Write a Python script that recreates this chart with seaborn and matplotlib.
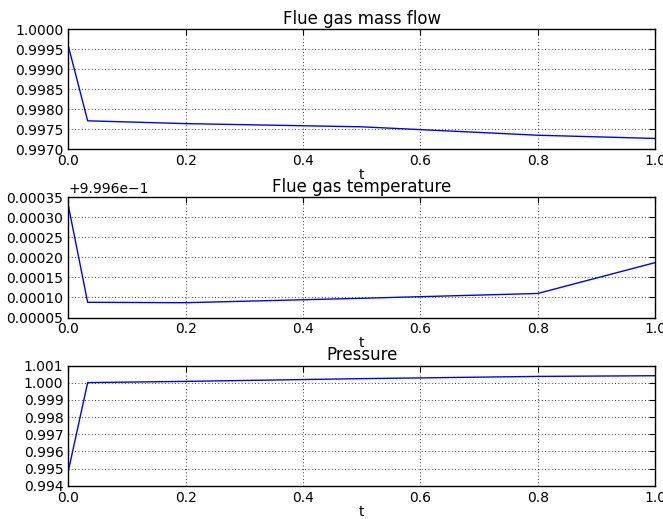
import matplotlib
matplotlib.use("Agg")
import matplotlib.pyplot as plt
from matplotlib.ticker import MultipleLocator
import seaborn as sns
import pandas as pd

t = [0.0, 0.033, 0.2, 0.5, 0.8, 1.0]
mass_flow = [0.99958, 0.99771, 0.99764, 0.99756, 0.99735, 0.99727]
temperature = [0.99993, 0.999688, 0.999687, 0.999698, 0.99971, 0.999787]
pressure = [0.99485, 1.00001, 1.00008, 1.00024, 1.00037, 1.00041]

titles = ["Flue gas mass flow", "Flue gas temperature", "Pressure"]
series = [mass_flow, temperature, pressure]
ylims = [(0.9970, 1.0000), (0.99965, 0.99995), (0.994, 1.001)]
ysteps = [0.0005, 0.00005, 0.001]
temp_offset = 0.9996

sns.set_style("white")
plt.rcParams.update({
    "font.family": ["DejaVu Sans"],
    "text.color": "black",
    "axes.labelcolor": "black",
    "xtick.color": "black",
    "ytick.color": "black",
    "xtick.direction": "in",
    "ytick.direction": "in",
    "xtick.top": True,
    "ytick.right": True,
    "xtick.major.size": 4,
    "ytick.major.size": 4,
    "axes.edgecolor": "black",
    "axes.linewidth": 1.0,
    "xtick.labelsize": 10,
    "ytick.labelsize": 10,
    "axes.titlesize": 12,
    "axes.labelsize": 10,
})

fig, axes = plt.subplots(3, 1, figsize=(6.63, 5.19), dpi=100)
fig.subplots_adjust(left=0.103, right=0.988, top=0.944, bottom=0.064, hspace=0.4)

for ax, title, vals, ylim, step in zip(axes, titles, series, ylims, ysteps):
    df = pd.DataFrame({"t": t, "v": vals})
    sns.lineplot(data=df, x="t", y="v", ax=ax, color="#0000ff", linewidth=1.0)
    ax.set_xlim(0, 1)
    ax.set_ylim(*ylim)
    ax.xaxis.set_major_locator(MultipleLocator(0.2))
    ax.yaxis.set_major_locator(MultipleLocator(step))
    ax.set_title(title, pad=4, color="black")
    ax.set_xlabel("t", labelpad=0)
    ax.set_ylabel("")
    ax.grid(True, color="black", linestyle=(0, (1, 3)), linewidth=0.6)
    for s in ax.spines.values():
        s.set_visible(True)
        s.set_color("black")
    ax.tick_params(colors="black", width=0.8)

axes[0].ticklabel_format(axis="y", useOffset=False, style="plain")
axes[2].ticklabel_format(axis="y", useOffset=False, style="plain")
axes[1].yaxis.set_major_formatter(plt.FuncFormatter(lambda v, p: f"{v - temp_offset:.5f}"))
axes[1].text(0.0, 1.01, "+9.996e\u22121", transform=axes[1].transAxes, fontsize=10,
             ha="left", va="bottom", color="black")

fig.savefig("out.png", dpi=100, facecolor="white")
